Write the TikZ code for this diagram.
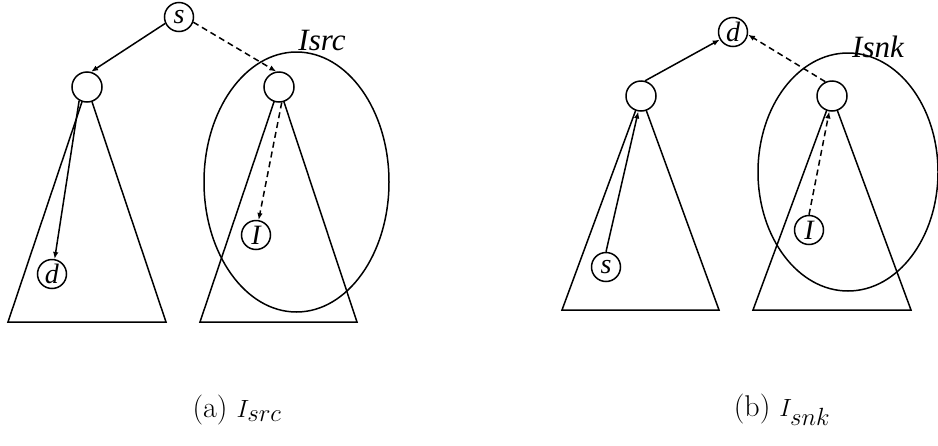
\documentclass[tikz,border=0pt]{standalone}
\usepackage{fontspec}
\newfontfamily\nodefont{Liberation Serif}
\usetikzlibrary{arrows.meta}
\begin{document}
\begin{tikzpicture}[x=1pt,y=-1pt,line width=1.5pt,
  vtx/.style={circle,draw,fill=white,inner sep=0pt,minimum size=29pt,font=\nodefont\itshape\fontsize{28}{30}\selectfont},
  emp/.style={circle,draw,fill=white,inner sep=0pt,minimum size=30pt},
  arr/.style={-{Latex[length=7pt,width=5.5pt]}},
  dsh/.style={arr,dash pattern=on 6pt off 4pt},
  lbl/.style={font=\nodefont\itshape\fontsize{31}{34}\selectfont,inner sep=0pt},
  captxt/.style={font=\fontsize{30}{34}\selectfont,inner sep=0pt}]
\useasboundingbox (0,0) rectangle (938,445);
% ---------- panel (a)
\draw (87,87) -- (8,322) -- (166,322) -- cycle;
\draw (279,87) -- (200,322) -- (357,322) -- cycle;
\draw (296.5,182) ellipse [x radius=92.5,y radius=130];
\node[emp] (al) at (87,87) {};
\node[emp] (ar) at (279,87) {};
\node[vtx] (as) at (179,17) {s};
\node[vtx] (ad) at (52,274) {d};
\node[vtx] (ai) at (256,235) {I};
\node[lbl] (alab) at (322,40) {Isrc};
\draw[arr] (as.205) -- (al.75);
\draw[dsh] (as.-20) -- (ar.100);
\draw[arr] (al.240) -- (ad.80);
\draw[dsh] (ar.-80) -- (ai.80);
\node[captxt] (acap) at (237,410) {(a) $I_{\textstyle src}$};
% ---------- panel (b)
\draw (641,96) -- (562,310) -- (719,310) -- cycle;
\draw (832,96) -- (753,310) -- (911,310) -- cycle;
\draw (848,172) ellipse [x radius=90,y radius=119];
\node[emp] (bl) at (641,96) {};
\node[emp] (br) at (832,96) {};
\node[vtx] (bd) at (733,32) {d};
\node[vtx] (bs) at (606,267) {s};
\node[vtx] (bi) at (809,230) {I};
\node[lbl] (blab) at (878,47) {Isnk};
\draw[arr] (bl.75) -- (bd.210);
\draw[dsh] (br.115) -- (bd.-10);
\draw[arr] (bs.north) -- (bl.260);
\draw[dsh] (bi.north) -- (br.260);
\node[captxt] (bcap) at (782,410) {(b) $I_{\textstyle snk}$};
\end{tikzpicture}
\end{document}
